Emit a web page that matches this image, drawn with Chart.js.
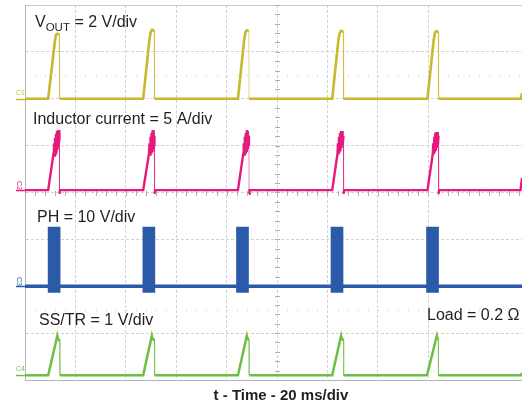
<!DOCTYPE html>
<html>
<head>
<meta charset="utf-8">
<script src="https://cdn.jsdelivr.net/npm/chart.js@4.4.0/dist/chart.umd.min.js"></script>
<style>
  html, body { margin: 0; padding: 0; background: #fff; overflow: hidden; }
  #wrap { position: relative; width: 522px; height: 406px; }
</style>
</head>
<body>
<div id="wrap"><canvas id="scope"></canvas></div>
<script>
// time in ms, 20 ms/div; right edge of the screen cuts the last division
const timeMax = 197.2;
const timeStep = 20;

// C1: V_OUT in volts, [ms, V]
const voutPoints = [
  [0, 0], [9.2, 0], [11.8, 2.4], [12.2, 2.7], [12.6, 2.77], [13.6, 2.75], [13.7, 0],
  [46.9, 0], [49.4, 2.55], [49.9, 2.85], [50.4, 2.94], [51.3, 2.9], [51.4, 0],
  [84.5, 0], [87.0, 2.55], [87.5, 2.85], [88.0, 2.92], [88.8, 2.88], [88.9, 0],
  [121.9, 0], [124.4, 2.55], [124.9, 2.82], [125.4, 2.9], [126.3, 2.87], [126.4, 0],
  [159.7, 0], [162.2, 2.55], [162.7, 2.82], [163.2, 2.88], [164.0, 2.86], [164.1, 0],
  [196.8, 0], [197.2, 0.25]
];

// C2: inductor current in amps, [ms, A]
const inductorPoints = [
  [0, 0], [9.2, 0], [11.3, 3.9], [11.5, 5.0], [11.7, 3.7], [11.9, 5.6], [12.1, 3.9], [12.3, 6.0],
  [12.5, 4.0], [12.7, 6.3], [12.9, 4.3], [13.1, 6.4], [13.3, 4.6], [13.5, 6.4], [13.65, 5.2], [13.7, -0.4], [13.9, 0],
  [46.9, 0], [49.2, 3.9], [49.4, 5.0], [49.6, 3.8], [49.8, 5.7], [50.0, 4.0], [50.2, 6.1], [50.4, 4.2],
  [50.6, 6.4], [50.8, 4.5], [51.0, 6.4], [51.2, 4.8], [51.35, 5.8], [51.4, -0.4], [51.6, 0],
  [84.5, 0], [86.6, 3.9], [86.8, 5.0], [87.0, 3.8], [87.2, 5.7], [87.4, 4.0], [87.6, 6.1], [87.8, 4.2],
  [88.0, 6.4], [88.2, 4.5], [88.4, 6.3], [88.6, 4.8], [88.85, 5.8], [88.9, -0.4], [89.1, 0],
  [121.9, 0], [124.0, 3.9], [124.2, 5.0], [124.4, 3.8], [124.6, 5.7], [124.8, 4.0], [125.0, 6.1], [125.2, 4.2],
  [125.4, 6.3], [125.6, 4.5], [125.8, 6.3], [126.0, 4.8], [126.35, 5.8], [126.4, -0.4], [126.6, 0],
  [159.7, 0], [161.8, 3.9], [162.0, 5.0], [162.2, 3.8], [162.4, 5.7], [162.6, 4.0], [162.8, 6.1], [163.0, 4.2],
  [163.2, 6.2], [163.4, 4.5], [163.6, 6.2], [163.8, 4.8], [164.05, 5.8], [164.1, -0.4], [164.3, 0],
  [196.6, 0], [197.2, 1.3]
];

// C3: PH switch node in volts; flat ground plus switching bursts [centre ms, low V, high V]
const phBaseline = [[0, 0], [197.2, 0]];
const phBursts = [
  [11.55, -1.3, 12.6],
  [49.15, -1.3, 12.6],
  [86.3, -1.3, 12.6],
  [123.8, -1.3, 12.6],
  [161.7, -1.3, 12.6]
];

// C4: SS/TR in volts, [ms, V]
const sstrPoints = [
  [0, 0], [9.2, 0], [12.8, 0.84], [12.95, 0.8], [13.8, 0.73], [13.85, 0],
  [46.9, 0], [50.3, 0.84], [50.45, 0.8], [51.4, 0.74], [51.45, 0],
  [84.5, 0], [88.0, 0.84], [88.15, 0.8], [88.9, 0.74], [88.95, 0],
  [121.9, 0], [125.4, 0.84], [125.55, 0.8], [126.4, 0.74], [126.45, 0],
  [159.5, 0], [163.4, 0.84], [163.55, 0.8], [164.0, 0.76], [164.05, 0],
  [196.8, 0], [197.2, 0.05]
];

const channelNames = ['C1', 'C2', 'C3', 'C4'];
const channelColors = ['#c8b82c', '#e6197c', '#2b5aa8', '#6cbf45'];
const channelFaint = ['rgba(200,184,44,0.55)', 'rgba(230,25,124,0.55)', 'rgba(43,90,168,0.55)', 'rgba(108,191,69,0.55)'];
const channelAxes = ['y1', 'y2', 'y3', 'y4'];

const toXY = pts => pts.map(p => ({ x: p[0], y: p[1] }));

// the fast falling edges show up thin and pale on the scope
const fallEdge = idx => ({
  borderColor: c => (c.p0.parsed.y > 0.3 && c.p1.parsed.y <= 0) ? channelFaint[idx] : undefined,
  borderWidth: c => (c.p0.parsed.y > 0.3 && c.p1.parsed.y <= 0) ? 1 : undefined
});

const FONT = '"Liberation Sans", Arial, sans-serif';

const scopeDecor = {
  id: 'scopeDecor',
  beforeDatasetsDraw(chart) {
    const { ctx, chartArea: a, scales } = chart;
    const x = scales.x, g = scales.y;
    ctx.save();
    // top edge of graticule
    ctx.strokeStyle = '#c8c8c8';
    ctx.lineWidth = 1;
    ctx.beginPath();
    ctx.moveTo(a.left, Math.round(a.top) + 0.5);
    ctx.lineTo(a.right, Math.round(a.top) + 0.5);
    ctx.stroke();
    // minor ticks on the centre lines
    ctx.fillStyle = '#b0b0b0';
    const cx = Math.round(x.getPixelForValue(100));
    for (let d = -4; d <= 4.001; d += 0.2) {
      ctx.fillRect(cx - 2, Math.round(g.getPixelForValue(d)), 5, 1);
    }
    const cy = Math.round(g.getPixelForValue(0));
    for (let t = 0; t <= timeMax; t += 4) {
      ctx.fillRect(Math.round(x.getPixelForValue(t)), cy - 2, 1, 5);
    }
    // dotted rows at +/- 2.5 div
    ctx.fillStyle = '#c4c4c4';
    [2.5, -2.5].forEach(d => {
      const yy = Math.round(g.getPixelForValue(d));
      for (let t = 0; t <= timeMax; t += 4) {
        ctx.fillRect(Math.round(x.getPixelForValue(t)), yy, 1, 1);
      }
    });
    ctx.restore();
  },
  afterDraw(chart) {
    const { ctx, scales } = chart;
    ctx.save();
    ctx.fillStyle = '#231f20';
    ctx.textBaseline = 'alphabetic';
    ctx.textAlign = 'left';

    ctx.font = '16px ' + FONT;
    ctx.fillText('V', 35, 27);
    let xx = 35 + ctx.measureText('V').width;
    ctx.font = '11.5px ' + FONT;
    ctx.fillText('OUT', xx, 31);
    xx += ctx.measureText('OUT').width;
    ctx.font = '16px ' + FONT;
    ctx.fillText(' = 2 V/div', xx, 27);

    ctx.fillText('Inductor current = 5 A/div', 33, 124);
    ctx.fillText('PH = 10 V/div', 37, 222);
    ctx.fillText('SS/TR = 1 V/div', 39, 325);
    ctx.fillText('Load = 0.2 \u03A9', 427, 320);

    ctx.font = 'bold 15px ' + FONT;
    ctx.textAlign = 'center';
    ctx.fillText('t - Time - 20 ms/div', 281, 400);

    // channel ground markers
    channelNames.forEach((name, i) => {
      const y0 = Math.round(scales[channelAxes[i]].getPixelForValue(0));
      ctx.strokeStyle = channelColors[i];
      ctx.lineWidth = 1.5;
      ctx.beginPath();
      ctx.moveTo(16, y0 + 0.5);
      ctx.lineTo(25, y0 + 0.5);
      ctx.stroke();
      ctx.fillStyle = channelColors[i];
      ctx.font = '7px ' + FONT;
      ctx.textAlign = 'left';
      if (i === 1 || i === 2) {
        ctx.save();
        ctx.translate(17, y0 - 9);
        ctx.rotate(Math.PI / 2);
        ctx.fillText(name, 0, 0);
        ctx.restore();
      } else {
        ctx.fillText(name, 16, y0 - 4);
      }
    });
    ctx.restore();
  }
};

const hiddenAxis = (min, max) => ({ type: 'linear', display: false, min: min, max: max });

new Chart(document.getElementById('scope'), {
  type: 'line',
  data: {
    datasets: [
      { label: 'VOUT', data: toXY(voutPoints), yAxisID: 'y1', borderColor: channelColors[0], borderWidth: 2.6, segment: fallEdge(0) },
      { label: 'Inductor current', data: toXY(inductorPoints), yAxisID: 'y2', borderColor: channelColors[1], borderWidth: 2.4, segment: fallEdge(1) },
      { label: 'PH', data: toXY(phBaseline), yAxisID: 'y3', borderColor: channelColors[2], borderWidth: 3.5 },
      {
        type: 'bar', label: 'PH bursts', yAxisID: 'y3', xAxisID: 'x',
        data: phBursts.map(b => ({ x: b[0], y: [b[1], b[2]] })),
        backgroundColor: channelColors[2], borderWidth: 0, barThickness: 12, grouped: false
      },
      { label: 'SS/TR', data: toXY(sstrPoints), yAxisID: 'y4', borderColor: channelColors[3], borderWidth: 2.5, segment: fallEdge(3) }
    ]
  },
  options: {
    responsive: true,
    maintainAspectRatio: false,
    animation: false,
    layout: { padding: { left: 25, top: 5, right: 0, bottom: 26 } },
    elements: { point: { radius: 0 }, line: { tension: 0, fill: false } },
    plugins: { legend: { display: false }, tooltip: { enabled: false } },
    scales: {
      x: {
        type: 'linear', min: 0, max: timeMax, offset: false,
        ticks: { display: false, stepSize: timeStep },
        grid: { color: '#d2d2d2', drawTicks: false, offset: false },
        border: { display: true, color: '#b4b4b4', dash: [3, 2] }
      },
      y: {
        type: 'linear', position: 'left', min: -4, max: 4,
        ticks: { display: false, stepSize: 1 },
        grid: { color: '#d2d2d2', drawTicks: false },
        border: { display: true, color: '#b4b4b4', dash: [3, 2] }
      },
      y1: hiddenAxis(-12, 4),
      y2: hiddenAxis(-20.25, 19.75),
      y3: hiddenAxis(-20, 60),
      y4: hiddenAxis(-0.1, 7.9)
    }
  },
  plugins: [scopeDecor]
});
</script>
</body>
</html>
